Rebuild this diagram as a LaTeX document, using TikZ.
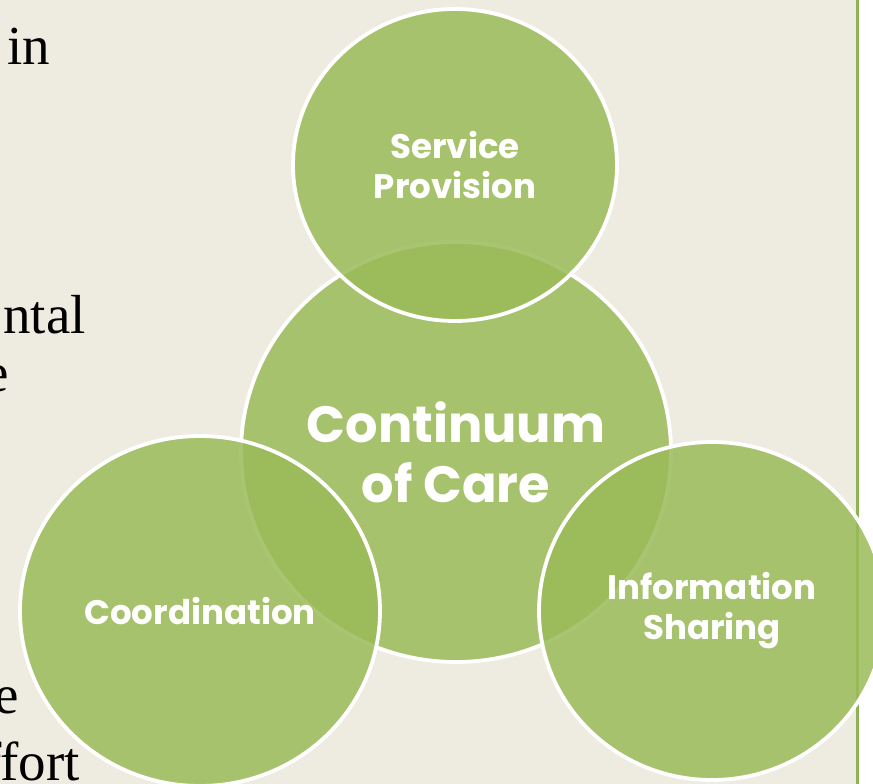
\documentclass[tikz,border=0pt]{standalone}
\usepackage{fontspec}
\setmainfont{Liberation Serif}
\newfontfamily\pop{Poppins}
\usetikzlibrary{shapes.geometric}
\definecolor{bg}{HTML}{EEEBE1}
\definecolor{grn}{HTML}{9BBB59}
\definecolor{rulegrn}{HTML}{8DB256}
\begin{document}
\begin{tikzpicture}[x=1pt,y=-1pt,
  bubble/.style={ellipse, draw=white, line width=3.8pt, fill=grn, fill opacity=0.85,
    draw opacity=1, text opacity=1, text=white, inner sep=0pt, align=center},
  lefttext/.style={anchor=base east, inner sep=0pt, text=black,
    font=\fontsize{55}{64}\selectfont}]
\useasboundingbox (0,0) rectangle (873,784);
\clip (0,0) rectangle (873,784);
\fill[bg] (0,0) rectangle (856,784);
\fill[rulegrn] (856,0) rectangle (858.5,784);
\node[lefttext] (t1) at (50,65) {in};
\node[lefttext] (t2) at (86,333) {ntal};
\node[lefttext] (t3) at (9,391) {e};
\node[lefttext] (t4) at (19,713) {e};
\node[lefttext] (t5) at (80,780) {ffort};
\node[bubble, minimum width=430pt, minimum height=420pt,
  font=\pop\bfseries\fontsize{51}{60}\selectfont] (care) at (456,452) {Continuum\\of Care};
\node[bubble, minimum width=324pt, minimum height=312pt,
  font=\pop\bfseries\fontsize{34}{40}\selectfont] (serv) at (455,165) {Service\\Provision};
\node[bubble, minimum width=360pt, minimum height=350pt,
  font=\pop\bfseries\fontsize{34}{40}\selectfont] (coord) at (200,611) {Coordination};
\node[bubble, minimum width=346pt, minimum height=338pt,
  font=\pop\bfseries\fontsize{34}{40}\selectfont] (info) at (712,611) {Information\\Sharing};
\end{tikzpicture}
\end{document}
